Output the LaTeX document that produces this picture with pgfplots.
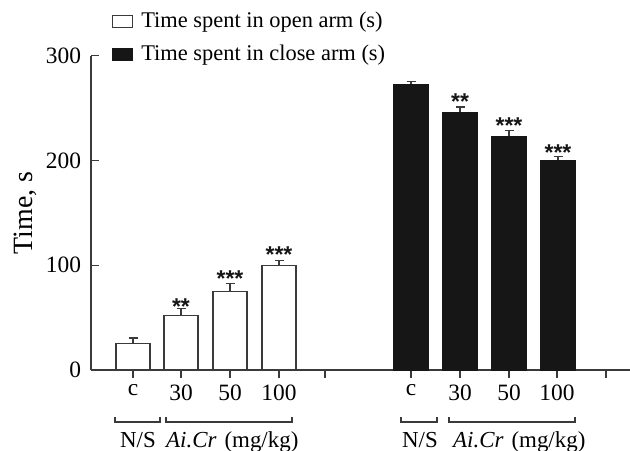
\documentclass[border=0pt]{standalone}
\usepackage{pgfplots}
\pgfplotsset{compat=1.18}
\usepackage{fontspec}
\setmainfont{Liberation Serif}
\newfontfamily\starfont{Liberation Sans}
\definecolor{barblk}{HTML}{161616}
\definecolor{axgray}{HTML}{3A3A3A}
\newcommand{\bigfont}{\fontsize{23.5}{27}\selectfont}
\newcommand{\legfont}{\fontsize{22.5}{27}\selectfont}
\begin{document}
\begin{tikzpicture}[font=\bigfont]
\useasboundingbox (0,0) rectangle (630bp,451bp);
\begin{axis}[
  at={(91bp,81bp)}, anchor=south west,
  scale only axis, width=539bp, height=314.3bp,
  xmin=91, xmax=630, ymin=0, ymax=300,
  axis x line=bottom, axis y line=left,
  axis line style={-, axgray, line width=1.1bp},
  xtick={133,181,230,279,325,411,460,509,557,606},
  xticklabels={c,30,50,100,,c,30,50,100,},
  ytick={0,100,200,300},
  tick align=outside, major tick length=8bp,
  tick style={axgray, line width=1.1bp},
  ytick style={xshift=8bp},
  tick label style={font=\bigfont},
  y tick label style={xshift=1.5bp},
  x tick label style={yshift=-3bp},
  /pgf/number format/assume math mode=true,
  clip=false,
  ylabel={Time, s},
  ylabel style={at={(axis cs:25,150)}, anchor=center, font=\fontsize{28}{32}\selectfont},
  legend style={at={(axis cs:112,343)}, anchor=north west, draw=none, fill=none,
    inner sep=0pt, row sep=11bp, font=\legfont,
    nodes={inner sep=0pt, text height=17bp, text depth=5bp},
    /tikz/every odd column/.append style={column sep=8bp}},
  legend cell align=left,
]
\addplot[ybar, bar width=34bp, bar shift=0pt, fill=white, draw=axgray, line width=1.1bp,
  legend image code/.code={\draw[fill=white, draw=axgray, line width=1.1bp] (0bp,-6bp) rectangle (20bp,6bp);},
  error bars/.cd, y dir=plus, y explicit,
  error bar style={line width=1.1bp, axgray},
  error mark options={rotate=90, mark size=4.5bp, line width=1.1bp, axgray}]
  table[x=x, y=y, y error=e] {
x y e
133 25.5 5.0
181 51.8 6.7
230 74.7 8.0
279 99.5 5.2
};
\addlegendentry{Time spent in open arm (s)}
\addplot[ybar, bar width=34bp, bar shift=0pt, fill=barblk, draw=barblk, line width=1.1bp,
  legend image code/.code={\draw[fill=barblk, draw=barblk, line width=1.1bp] (0bp,-6bp) rectangle (20bp,6bp);},
  error bars/.cd, y dir=plus, y explicit,
  error bar style={line width=1.1bp, axgray},
  error mark options={rotate=90, mark size=4.5bp, line width=1.1bp, axgray}]
  table[x=x, y=y, y error=e] {
x y e
411 272.6 2.9
460 245.9 5.1
509 223.0 6.0
558 200.0 3.5
};
\addlegendentry{Time spent in close arm (s)}
\addplot[draw=none, mark=none, forget plot, nodes near coords, point meta=explicit symbolic,
  every node near coord/.append style={anchor=center, yshift=-4.7bp, inner sep=0pt,
    font=\starfont\bfseries\fontsize{23}{23}\selectfont, text=barblk}]
  table[x=x, y=y, meta=s] {
x y s
181 65.2 **
230 91.6 ***
279 114.5 ***
460 260.8 **
509 237.6 ***
558 212.1 ***
};
\draw[axgray, line width=1.1bp] (axis cs:115,-44.8) -- (axis cs:115,-49.6) -- (axis cs:160,-49.6) -- (axis cs:160,-44.8);
\draw[axgray, line width=1.1bp] (axis cs:166,-44.8) -- (axis cs:166,-49.6) -- (axis cs:292,-49.6) -- (axis cs:292,-44.8);
\draw[axgray, line width=1.1bp] (axis cs:401,-44.8) -- (axis cs:401,-49.6) -- (axis cs:437,-49.6) -- (axis cs:437,-44.8);
\draw[axgray, line width=1.1bp] (axis cs:449,-44.8) -- (axis cs:449,-49.6) -- (axis cs:575,-49.6) -- (axis cs:575,-44.8);
\node[anchor=base, inner sep=0pt, font=\fontsize{23}{27}\selectfont] at (axis cs:138,-73.5) {N/S};
\node[anchor=base west, inner sep=0pt, font=\fontsize{23}{27}\selectfont] at (axis cs:166,-73.5) {\textit{Ai.Cr}\hspace{8bp}(mg/kg)};
\node[anchor=base, inner sep=0pt, font=\fontsize{23}{27}\selectfont] at (axis cs:420,-73.5) {N/S};
\node[anchor=base west, inner sep=0pt, font=\fontsize{23}{27}\selectfont] at (axis cs:453,-73.5) {\textit{Ai.Cr}\hspace{8bp}(mg/kg)};
\end{axis}
\end{tikzpicture}
\end{document}
